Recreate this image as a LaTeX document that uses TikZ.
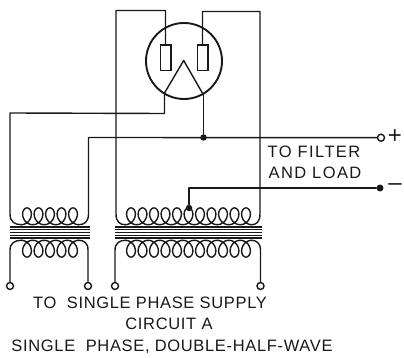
\documentclass[tikz,border=0pt]{standalone}
\usepackage{fontspec}
\setmainfont{Liberation Sans}
\newfontfamily\labfont[LetterSpace=4]{Liberation Sans}
\newfontfamily\labfontb[LetterSpace=8.5]{Liberation Sans}
\tikzset{
  x=1pt,y=-1pt,
  wire/.style={line width=1.4pt,line join=round,line cap=round,black!90},
  corel/.style={line width=1.2pt,black!90},
  term/.style={circle,draw=black!90,line width=1.4pt,fill=white,inner sep=0pt,minimum size=7pt},
  joint/.style={circle,fill=black!90,inner sep=0pt,minimum size=6.5pt},
  plate/.style={rectangle,draw=black!90,line width=1.5pt,inner sep=0pt,minimum width=10.5pt,minimum height=25.5pt},
  lab/.style={text=black!90,inner sep=0pt,anchor=center},
  labbig/.style={lab,font=\labfont\fontsize{16.5}{20}\selectfont},
  labmid/.style={lab,font=\labfontb\fontsize{16.5}{20}\selectfont},
  sign/.style={lab,font=\fontsize{24}{24}\selectfont},
}
% #1 x of first oval centre, #2 number of ovals, #3 y centre, #4 +1 top-loops / -1 bottom-loops
\newcommand{\coilrun}[4]{%
  \draw[wire,domain=0:{360*#2},samples=\numexpr 30*#2\relax,smooth,variable=\t]
    plot ({#1+11.5*((\t-180)/360)+7*sin(\t)},{#3+#4*8.4*cos(\t)});}
\begin{document}
\begin{tikzpicture}
\useasboundingbox (0,0) rectangle (404,358);
% valve
\node[circle,draw=black!90,line width=1.9pt,minimum size=76pt,inner sep=0pt] (env) at (184,61) {};
\node[plate] (pl) at (165.5,58) {};
\node[plate] (pr) at (202.5,58) {};
\coordinate (fa) at (183.7,60.5);
\coordinate (fl) at (164.5,93);
\coordinate (fr) at (203.5,95);
\draw[wire] (fl) -- (fa) -- (fr);
% coordinates
\coordinate (lt) at (116,10.5);
\coordinate (rt) at (260,11.5);
\coordinate (ul) at (10,113);
\coordinate (um) at (88.5,137.5);
\coordinate (tapup) at (189,188);
% terminals
\node[term] (tp) at (381,137.7) {};
\node[joint,minimum size=7pt] (tm) at (380,188) {};
\node[joint] (j1) at (203.5,137.5) {};
\node[joint] (j2) at (189,208) {};
\node[term] (a1) at (10,286) {};
\node[term] (a2) at (88,286) {};
\node[term] (b1) at (115,286) {};
\node[term] (b2) at (260.5,286) {};
% wiring
\draw[wire] (pl.north) -- (165.5,10.5) -- (lt) -- (116,214)
  .. controls (116,222) and (120,224.7) .. (125.3,224.7);
\draw[wire] (pr.north) -- (202.5,11.5) -- (rt) -- (260,214)
  .. controls (260,222) and (256,224.7) .. (251.7,224.7);
\draw[wire] (fl) -- (164.5,113.5) -- (ul) -- (10,214)
  .. controls (10,222) and (15,224.7) .. (21.3,224.7);
\draw[wire] (tp) -- (um) -- (88.5,214)
  .. controls (88.5,222) and (84,224.7) .. (78.8,224.7);
\draw[wire] (fr) -- (j1);
\draw[wire] (j2) -- (tapup) -- (tm);
% coils
\coilrun{27}{5}{216.3}{1}
\coilrun{27}{5}{248.7}{-1}
\coilrun{131}{11}{216.3}{1}
\coilrun{131}{11}{248.7}{-1}
% lower leads
\draw[wire] (a1) -- (10,250) .. controls (10,243) and (15,240.3) .. (21.3,240.3);
\draw[wire] (a2) -- (88,250) .. controls (88,243) and (84,240.3) .. (78.8,240.3);
\draw[wire] (b1) -- (115,250) .. controls (115,243) and (120,240.3) .. (125.3,240.3);
\draw[wire] (b2) -- (260.5,250) .. controls (260.5,243) and (256,240.3) .. (251.7,240.3);
% cores
\foreach \yy in {227,229.75,232.5,235.25,238}{
  \draw[corel] (10,\yy) -- (90,\yy);
  \draw[corel] (115,\yy) -- (262,\yy);
}
% text
\node[labmid] (t1) at (314,152) {TO FILTER};
\node[labmid] (t2) at (315,173) {AND LOAD};
\node[sign] (plus) at (395,137) {+};
\node[sign] (minus) at (395,187.5) {–};
\node[labbig] (c1) at (150,303) {TO\ \ SINGLE\ PHASE SUPPLY};
\node[labbig] (c2) at (169,324) {CIRCUIT A};
\node[labbig] (c3) at (172,346.5) {SINGLE\ \ PHASE, DOUBLE-HALF-WAVE};
\end{tikzpicture}
\end{document}
